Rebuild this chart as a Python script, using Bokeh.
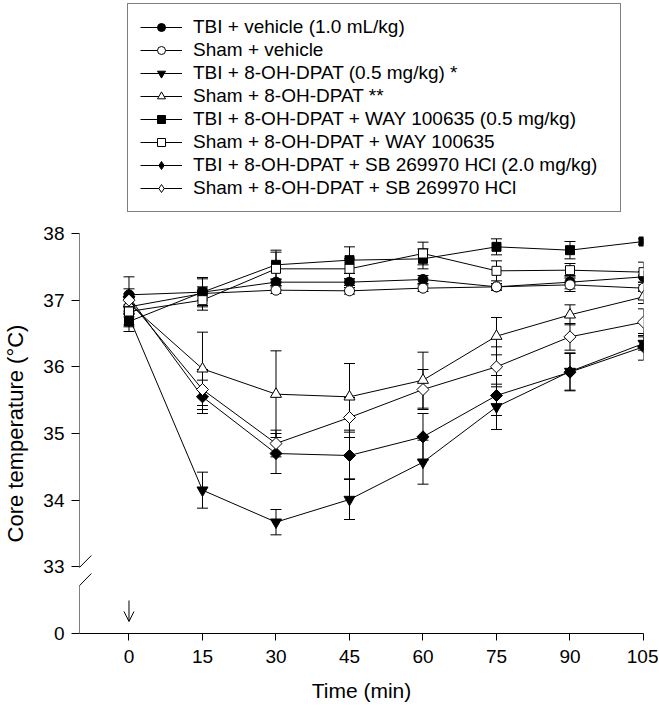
import numpy as np
import pandas as pd
from bokeh.plotting import figure
from bokeh.layouts import column
from bokeh.models import (Range1d, FixedTicker, Legend, LegendItem, Whisker, TeeHead,
                          ColumnDataSource, Arrow, OpenHead)
from bokeh.embed import file_html
from bokeh.resources import INLINE

# ---------------- data ----------------
time_min = [0, 15, 30, 45, 60, 75, 90, 105]
x_ticks = [0, 15, 30, 45, 60, 75, 90, 105]
y_ticks = [32, 33, 34, 35, 36, 37, 38]          # 32 is the display slot of "0" (broken axis)
y_tick_labels = ["0", "33", "34", "35", "36", "37", "38"]

series_labels = [
    "TBI + vehicle (1.0 mL/kg)",
    "Sham + vehicle",
    "TBI + 8-OH-DPAT (0.5 mg/kg) *",
    "Sham + 8-OH-DPAT **",
    "TBI + 8-OH-DPAT + WAY 100635 (0.5 mg/kg)",
    "Sham + 8-OH-DPAT + WAY 100635",
    "TBI + 8-OH-DPAT + SB 269970 HCl (2.0 mg/kg)",
    "Sham + 8-OH-DPAT + SB 269970 HCl",
]

tbi_vehicle      = [37.08, 37.12, 37.27, 37.27, 37.31, 37.20, 37.27, 37.35]
tbi_vehicle_sem  = [0.27, 0.22, 0.05, 0.05, 0.06, 0.05, 0.10, 0.08]
sham_vehicle     = [36.90, 37.10, 37.15, 37.14, 37.18, 37.20, 37.23, 37.18]
sham_vehicle_sem = [0.15, 0.10, 0.05, 0.05, 0.05, 0.05, 0.10, 0.05]
tbi_dpat         = [36.75, 34.15, 33.67, 34.01, 34.57, 35.40, 35.93, 36.35]
tbi_dpat_sem     = [0.15, 0.27, 0.19, 0.30, 0.33, 0.34, 0.28, 0.10]
sham_dpat        = [36.95, 35.97, 35.59, 35.55, 35.80, 36.46, 36.78, 37.05]
sham_dpat_sem    = [0.10, 0.55, 0.65, 0.50, 0.42, 0.28, 0.15, 0.10]
tbi_way          = [36.68, 37.12, 37.53, 37.60, 37.62, 37.80, 37.75, 37.88]
tbi_way_sem      = [0.15, 0.20, 0.22, 0.20, 0.15, 0.12, 0.13, 0.04]
sham_way         = [36.83, 37.00, 37.47, 37.47, 37.70, 37.44, 37.45, 37.42]
sham_way_sem     = [0.20, 0.15, 0.25, 0.15, 0.17, 0.15, 0.10, 0.15]
tbi_sb           = [37.05, 35.55, 34.70, 34.67, 34.95, 35.57, 35.92, 36.30]
tbi_sb_sem       = [0.12, 0.25, 0.30, 0.35, 0.35, 0.30, 0.28, 0.20]
sham_sb          = [37.00, 35.66, 34.85, 35.24, 35.66, 36.00, 36.45, 36.67]
sham_sb_sem      = [0.10, 0.30, 0.20, 0.30, 0.30, 0.30, 0.20, 0.20]

means = [tbi_vehicle, sham_vehicle, tbi_dpat, sham_dpat, tbi_way, sham_way, tbi_sb, sham_sb]
sems = [tbi_vehicle_sem, sham_vehicle_sem, tbi_dpat_sem, sham_dpat_sem,
        tbi_way_sem, sham_way_sem, tbi_sb_sem, sham_sb_sem]

# marker styles: (plot marker, legend marker, fill, size, angle)
styles = [
    ("circle", "circle", "black", 10, 0.0),
    ("circle", "circle", "white", 10, 0.0),
    ("inverted_triangle", "inverted_triangle", "black", 11, 0.0),
    ("triangle", "triangle", "white", 11, 0.0),
    ("square", "square", "black", 9, 0.0),
    ("square", "square", "white", 9, 0.0),
    ("square", "diamond", "black", 8.5, np.pi / 4),
    ("square", "diamond", "white", 8.5, np.pi / 4),
]

FONT = "Liberation Sans"
X0, X1 = -10.1, 105
Y0, Y1 = 32, 38
W = 658

# ---------------- main plot ----------------
p = figure(width=W, height=486, output_backend="svg", toolbar_location=None, title=None,
           x_range=Range1d(X0, X1), y_range=Range1d(Y0, Y1),
           min_border_left=73, min_border_right=W - 643, min_border_top=12, min_border_bottom=74)
p.outline_line_color = None
p.xgrid.visible = False
p.ygrid.visible = False
p.background_fill_color = "white"
p.border_fill_color = "white"

p.xaxis.ticker = FixedTicker(ticks=x_ticks)
p.xaxis.major_tick_out = 7
p.xaxis.major_tick_in = 0
p.xaxis.minor_tick_line_color = None
p.xaxis.major_label_standoff = 9
p.xaxis.major_label_text_font = FONT
p.xaxis.major_label_text_font_size = "19px"
p.xaxis.major_label_text_color = "black"
p.xaxis.axis_line_color = "black"
p.xaxis.major_tick_line_color = "black"
p.xaxis.axis_label = "Time (min)"
p.xaxis.axis_label_text_font = FONT
p.xaxis.axis_label_text_font_size = "21px"
p.xaxis.axis_label_text_font_style = "normal"
p.xaxis.axis_label_text_color = "black"
p.xaxis.axis_label_standoff = 13

p.yaxis.ticker = FixedTicker(ticks=y_ticks)
p.yaxis.major_label_overrides = {t: l for t, l in zip(y_ticks, y_tick_labels)}
p.yaxis.major_tick_out = 8
p.yaxis.major_tick_in = 0
p.yaxis.minor_tick_line_color = None
p.yaxis.major_label_standoff = 7
p.yaxis.major_label_text_font = FONT
p.yaxis.major_label_text_font_size = "19px"
p.yaxis.major_label_text_color = "black"
p.yaxis.axis_line_color = None
p.yaxis.major_tick_line_color = "black"
p.yaxis.axis_label = "Core temperature (°C)"
p.yaxis.axis_label_text_font = FONT
p.yaxis.axis_label_text_font_size = "22px"
p.yaxis.axis_label_text_font_style = "normal"
p.yaxis.axis_label_text_color = "black"
p.yaxis.axis_label_standoff = 12

# broken y spine, drawn as two pieces plus break marks
spine_x = X0
for ys, ye in [(38, 33.0), (32.72, 32)]:
    p.add_layout(Arrow(x_start=spine_x, y_start=ys, x_end=spine_x, y_end=ye, end=None,
                       line_color="black", line_width=1))
for ys, ye in [(32.83, 33.17), (32.555, 32.90)]:
    p.add_layout(Arrow(x_start=-12.26, y_start=ys, x_end=-7.68, y_end=ye, end=None,
                       line_color="black", line_width=1))

# injection arrow at t = 0
p.add_layout(Arrow(x_start=0, y_start=32.495, x_end=0, y_end=32.18,
                   end=OpenHead(size=10, line_color="black", line_width=1),
                   line_color="black", line_width=1))

# ---------------- legend strip ----------------
lg = figure(width=W, height=221, output_backend="svg", toolbar_location=None, title=None,
            x_axis_location=None, y_axis_location=None,
            x_range=Range1d(0, 1), y_range=Range1d(0, 1),
            min_border_left=0, min_border_right=0, min_border_top=0, min_border_bottom=0)
lg.grid.visible = False
lg.outline_line_color = None
lg.background_fill_color = "white"
lg.border_fill_color = "white"

items = []
for lab, m, s, (mk, lmk, fill, size, ang) in zip(series_labels, means, sems, styles):
    df = pd.DataFrame({"x": time_min, "y": m, "sem": s})
    df["upper"] = df["y"] + df["sem"]
    df["lower"] = df["y"] - df["sem"]
    src = ColumnDataSource(df)
    p.line("x", "y", source=src, line_color="black", line_width=1)
    w = Whisker(base="x", upper="upper", lower="lower", source=src, dimension="height",
                line_color="black", line_width=1,
                upper_head=TeeHead(size=11, line_color="black", line_width=1),
                lower_head=TeeHead(size=11, line_color="black", line_width=1))
    p.add_layout(w)
    p.scatter("x", "y", source=src, marker=mk, size=size, angle=ang,
              fill_color=fill, line_color="black", line_width=1)
    # legend proxies in the legend strip (same data, outside its visible range)
    lr = lg.line("x", "y", source=src, line_color="black", line_width=1)
    sr = lg.scatter("x", "y", source=src, marker=lmk, size=size,
                    fill_color=fill, line_color="black", line_width=1)
    items.append(LegendItem(label=lab, renderers=[lr, sr]))

legend = Legend(items=items, location=(48, 9), padding=12, spacing=1, margin=0,
                glyph_width=42, glyph_height=20, label_height=20, label_width=415,
                label_standoff=11, label_text_font=FONT, label_text_font_size="19px",
                label_text_color="black", border_line_color="black", border_line_width=1,
                background_fill_color="white", background_fill_alpha=1.0)
lg.add_layout(legend)

layout = column(lg, p, spacing=0)
open("out.html", "w").write(file_html(layout, INLINE))
